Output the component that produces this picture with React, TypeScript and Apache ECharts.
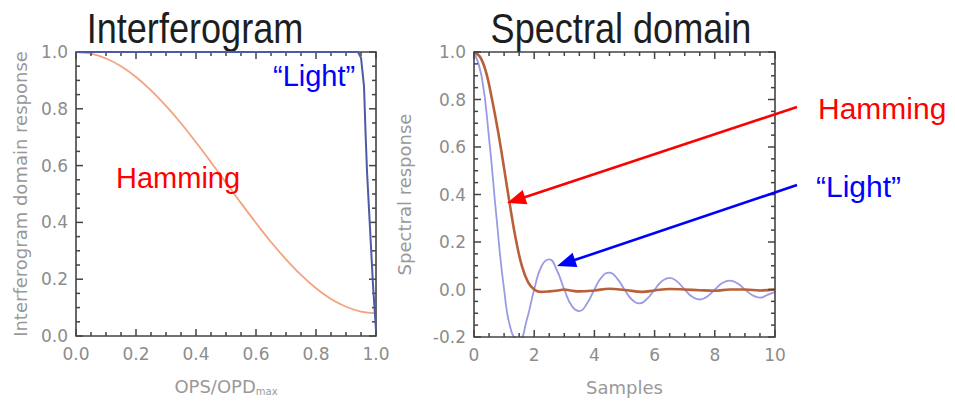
import React, { useEffect, useRef } from "react";
import * as echarts from "echarts";

// ---- Data ----
const interfHammingX = [0, 0.05, 0.1, 0.15, 0.2, 0.25, 0.3, 0.35, 0.4, 0.45, 0.5, 0.55, 0.6, 0.65, 0.7, 0.75, 0.8, 0.85, 0.9, 0.95, 1.0];
const interfHammingY = [1.0, 0.994, 0.977, 0.95, 0.912, 0.865, 0.81, 0.749, 0.682, 0.612, 0.54, 0.468, 0.398, 0.331, 0.27, 0.215, 0.168, 0.13, 0.103, 0.086, 0.08];

const interfLightX = [0, 0.5, 0.94, 0.95, 0.96, 0.965, 0.97, 0.98, 0.99, 1.0];
const interfLightY = [1.0, 1.0, 1.0, 0.98, 0.88, 0.72, 0.58, 0.38, 0.18, 0.02];

const specHammingX = [0, 0.2, 0.4, 0.6, 0.8, 1.0, 1.2, 1.4, 1.6, 1.8, 2.0, 2.2, 2.5, 2.8, 3.0, 3.2, 3.5, 4.0, 4.5, 5.0, 5.6, 6.0, 6.5, 7.0, 7.5, 8.0, 8.5, 9.0, 9.5, 10];
const specHammingY = [1.0, 0.98, 0.915, 0.8, 0.665, 0.51, 0.35, 0.205, 0.095, 0.03, 0.0, -0.01, -0.008, -0.004, 0.0, -0.004, -0.008, -0.004, 0.003, -0.002, -0.01, -0.004, 0.002, 0.0, -0.003, -0.005, 0.0, 0.0, -0.004, 0.0];

const specLightX = [0, 0.25, 0.5, 0.75, 1.0, 1.25, 1.5, 1.75, 2.0, 2.25, 2.5, 2.75, 3.0, 3.25, 3.5, 3.75, 4.0, 4.25, 4.5, 4.75, 5.0, 5.25, 5.5, 5.75, 6.0, 6.25, 6.5, 6.75, 7.0, 7.25, 7.5, 7.75, 8.0, 8.25, 8.5, 8.75, 9.0, 9.25, 9.5, 9.75, 10];
const specLightY = [1.0, 0.9, 0.637, 0.3, 0.0, -0.18, -0.212, -0.129, 0.0, 0.1, 0.127, 0.082, 0.0, -0.069, -0.091, -0.06, 0.0, 0.053, 0.071, 0.047, 0.0, -0.043, -0.058, -0.039, 0.0, 0.036, 0.049, 0.033, 0.0, -0.031, -0.042, -0.029, 0.0, 0.027, 0.037, 0.026, 0.0, -0.024, -0.034, -0.023, -0.01];

const leftXTicks = { min: 0, max: 1, interval: 0.2 };
const leftYTicks = { min: 0, max: 1, interval: 0.2 };
const rightXTicks = { min: 0, max: 10, interval: 2 };
const rightYTicks = { min: -0.2, max: 1, interval: 0.2 };
const MINOR_SPLITS = 4;

const titles = ["Interferogram", "Spectral domain"];
const leftXName = "OPS/OPD";
const leftXSub = "max";
const leftYName = "Interferogram domain response";
const rightXName = "Samples";
const rightYName = "Spectral response";

const pair = (xs: number[], ys: number[]) => xs.map((x, i) => [x, ys[i]]);

const FRAME = "#444444";
const LABEL = "#8c8c8c";
const TICKFONT = "DejaVu Sans";

// tick positions along an axis range: [value, isMajor]
function tickList(r: { min: number; max: number; interval: number }) {
  const out: number[][] = [];
  const step = r.interval / MINOR_SPLITS;
  const n = Math.round((r.max - r.min) / step);
  for (let i = 0; i <= n; i++) {
    const v = +(r.min + i * step).toFixed(6);
    out.push([v, i % MINOR_SPLITS === 0 ? 1 : 0]);
  }
  return out;
}

function makeAxis(
  gridIndex: number,
  position: "bottom" | "left",
  range: { min: number; max: number; interval: number },
  name: string,
  nameGap: number,
  fmt: (v: number) => string,
  nameRich?: any
) {
  const isX = position === "bottom";
  return {
    type: "value",
    gridIndex,
    position,
    min: range.min,
    max: range.max,
    interval: range.interval,
    splitLine: { show: false },
    axisLine: { show: false },
    axisTick: { show: false },
    axisLabel: {
      show: true,
      color: LABEL,
      fontFamily: TICKFONT,
      fontSize: 17,
      margin: isX ? 9 : 8,
      formatter: fmt,
    },
    name,
    nameLocation: "middle",
    nameGap,
    nameTextStyle: {
      color: "#999999",
      fontFamily: TICKFONT,
      fontSize: 18,
      ...(nameRich ? { rich: nameRich } : {}),
    },
  };
}

// inward ticks along the x edges (bottom & top) of a plot box
function xTickSeries(idx: number, xr: any, yr: any) {
  return {
    type: "custom",
    xAxisIndex: idx,
    yAxisIndex: idx,
    clip: false,
    silent: true,
    z: 10,
    data: tickList(xr),
    renderItem: (params: any, api: any) => {
      const v = api.value(0);
      const len = api.value(1) === 1 ? 7 : 4;
      const pb = api.coord([v, yr.min]);
      const pt = api.coord([v, yr.max]);
      const style = { stroke: FRAME, lineWidth: 1.5 };
      return {
        type: "group",
        children: [
          { type: "line", shape: { x1: pb[0], y1: pb[1], x2: pb[0], y2: pb[1] - len }, style },
          { type: "line", shape: { x1: pt[0], y1: pt[1], x2: pt[0], y2: pt[1] + len }, style: { ...style } },
        ],
      };
    },
  };
}

// inward ticks along the y edges (left & right) of a plot box
function yTickSeries(idx: number, xr: any, yr: any) {
  return {
    type: "custom",
    xAxisIndex: idx,
    yAxisIndex: idx,
    clip: false,
    silent: true,
    z: 10,
    data: tickList(yr).map((t) => [xr.min, t[0], t[1]]),
    renderItem: (params: any, api: any) => {
      const v = api.value(1);
      const len = api.value(2) === 1 ? 7 : 4;
      const pl = api.coord([xr.min, v]);
      const pr = api.coord([xr.max, v]);
      const style = { stroke: FRAME, lineWidth: 1.5 };
      return {
        type: "group",
        children: [
          { type: "line", shape: { x1: pl[0], y1: pl[1], x2: pl[0] + len, y2: pl[1] }, style },
          { type: "line", shape: { x1: pr[0], y1: pr[1], x2: pr[0] - len, y2: pr[1] }, style: { ...style } },
        ],
      };
    },
  };
}

// plot box outline
function boxSeries(idx: number, xr: any, yr: any) {
  return {
    type: "custom",
    xAxisIndex: idx,
    yAxisIndex: idx,
    clip: false,
    silent: true,
    z: 10,
    data: [[xr.min, yr.min]],
    renderItem: (params: any, api: any) => {
      const a = api.coord([xr.min, yr.max]);
      const b = api.coord([xr.max, yr.min]);
      return {
        type: "rect",
        shape: { x: a[0], y: a[1], width: b[0] - a[0], height: b[1] - a[1] },
        style: { fill: "none", stroke: FRAME, lineWidth: 1.6 },
      };
    },
  };
}

function arrow(x1: number, y1: number, x2: number, y2: number, color: string) {
  const dx = x2 - x1;
  const dy = y2 - y1;
  const len = Math.sqrt(dx * dx + dy * dy);
  const ux = dx / len;
  const uy = dy / len;
  const headLen = 19;
  const halfW = 7.5;
  const bx = x2 - ux * headLen;
  const by = y2 - uy * headLen;
  const nx = -uy;
  const ny = ux;
  return [
    {
      type: "line",
      shape: { x1, y1, x2: bx + ux * 2, y2: by + uy * 2 },
      style: { stroke: color, lineWidth: 2.6 },
      z: 100,
    },
    {
      type: "polygon",
      shape: {
        points: [
          [x2, y2],
          [bx + nx * halfW, by + ny * halfW],
          [bx - nx * halfW, by - ny * halfW],
        ],
      },
      style: { fill: color },
      z: 100,
    },
  ];
}

export default function App() {
  const ref = useRef<HTMLDivElement>(null);

  useEffect(() => {
    if (!ref.current) return;
    const chart = echarts.init(ref.current, null, { renderer: "svg" });

    const fmt1 = (v: number) => v.toFixed(1);
    const fmt0 = (v: number) => String(Math.round(v));

    const subRich = {
      a: { color: "#999999", fontFamily: TICKFONT, fontSize: 18 },
      s: { color: "#999999", fontFamily: TICKFONT, fontSize: 10, verticalAlign: "bottom", padding: [10, 0, 0, 0] },
    };

    const titleStyle = {
      fontFamily: "Liberation Sans, Arial",
      fontSize: 43,
      fill: "#1e1e1e",
    };

    chart.setOption({
      animation: false,
      backgroundColor: "#ffffff",
      grid: [
        { left: 76, top: 52, width: 300, height: 293, show: false },
        { left: 474, top: 52, width: 301, height: 294, show: false },
      ],
      xAxis: [
        makeAxis(0, "bottom", leftXTicks, `{a|${leftXName}}{s|${leftXSub}}`, 40, fmt1, subRich),
        makeAxis(1, "bottom", rightXTicks, rightXName, 41, fmt0),
      ],
      yAxis: [
        makeAxis(0, "left", leftYTicks, leftYName, 47, fmt1),
        makeAxis(1, "left", rightYTicks, rightYName, 61, fmt1),
      ],
      series: [
        boxSeries(0, leftXTicks, leftYTicks),
        xTickSeries(0, leftXTicks, leftYTicks),
        yTickSeries(0, leftXTicks, leftYTicks),
        boxSeries(1, rightXTicks, rightYTicks),
        xTickSeries(1, rightXTicks, rightYTicks),
        yTickSeries(1, rightXTicks, rightYTicks),
        {
          type: "line",
          name: "Hamming",
          xAxisIndex: 0,
          yAxisIndex: 0,
          data: pair(interfHammingX, interfHammingY),
          smooth: 0.4,
          showSymbol: false,
          lineStyle: { color: "#f3a37f", width: 1.8 },
          z: 3,
        },
        {
          type: "line",
          name: "Light",
          xAxisIndex: 0,
          yAxisIndex: 0,
          data: pair(interfLightX, interfLightY),
          smooth: false,
          showSymbol: false,
          lineStyle: { color: "#4f5aa6", width: 2 },
          z: 11,
        },
        {
          type: "line",
          name: "Light",
          xAxisIndex: 1,
          yAxisIndex: 1,
          data: pair(specLightX, specLightY),
          smooth: 0.5,
          showSymbol: false,
          clip: true,
          lineStyle: { color: "#9a9ae6", width: 1.8 },
          z: 3,
        },
        {
          type: "line",
          name: "Hamming",
          xAxisIndex: 1,
          yAxisIndex: 1,
          data: pair(specHammingX, specHammingY),
          smooth: 0.4,
          showSymbol: false,
          clip: true,
          lineStyle: { color: "#b8603a", width: 2.6 },
          z: 4,
        },
      ],
      graphic: [
        { type: "text", x: 195, y: 6, scaleX: 0.84, style: { ...titleStyle, text: titles[0], align: "center", verticalAlign: "top" } },
        { type: "text", x: 621, y: 6, scaleX: 0.84, style: { ...titleStyle, text: titles[1], align: "center", verticalAlign: "top" } },
        {
          type: "text", x: 116, y: 178, z: 50,
          style: { text: "Hamming", fontFamily: "Liberation Sans, Arial", fontSize: 29, fill: "#ff0000", align: "left", verticalAlign: "middle" },
        },
        {
          type: "text", x: 273, y: 76, z: 50,
          style: { text: "\u201cLight\u201d", fontFamily: "Liberation Sans, Arial", fontSize: 29, fill: "#0000ff", align: "left", verticalAlign: "middle" },
        },
        {
          type: "text", x: 818, y: 108, z: 50,
          style: { text: "Hamming", fontFamily: "Liberation Sans, Arial", fontSize: 30, fill: "#ff0000", align: "left", verticalAlign: "middle" },
        },
        {
          type: "text", x: 816, y: 186, z: 50,
          style: { text: "\u201cLight\u201d", fontFamily: "Liberation Sans, Arial", fontSize: 30, fill: "#0000ff", align: "left", verticalAlign: "middle" },
        },
        ...arrow(797, 107, 507, 203, "#ff0000"),
        ...arrow(797, 185, 557, 266, "#0000ff"),
      ],
    });

    return () => chart.dispose();
  }, []);

  return (
    <div
      ref={ref}
      style={{ position: "absolute", left: 0, top: 0, width: 955, height: 401, background: "#fff" }}
    />
  );
}
